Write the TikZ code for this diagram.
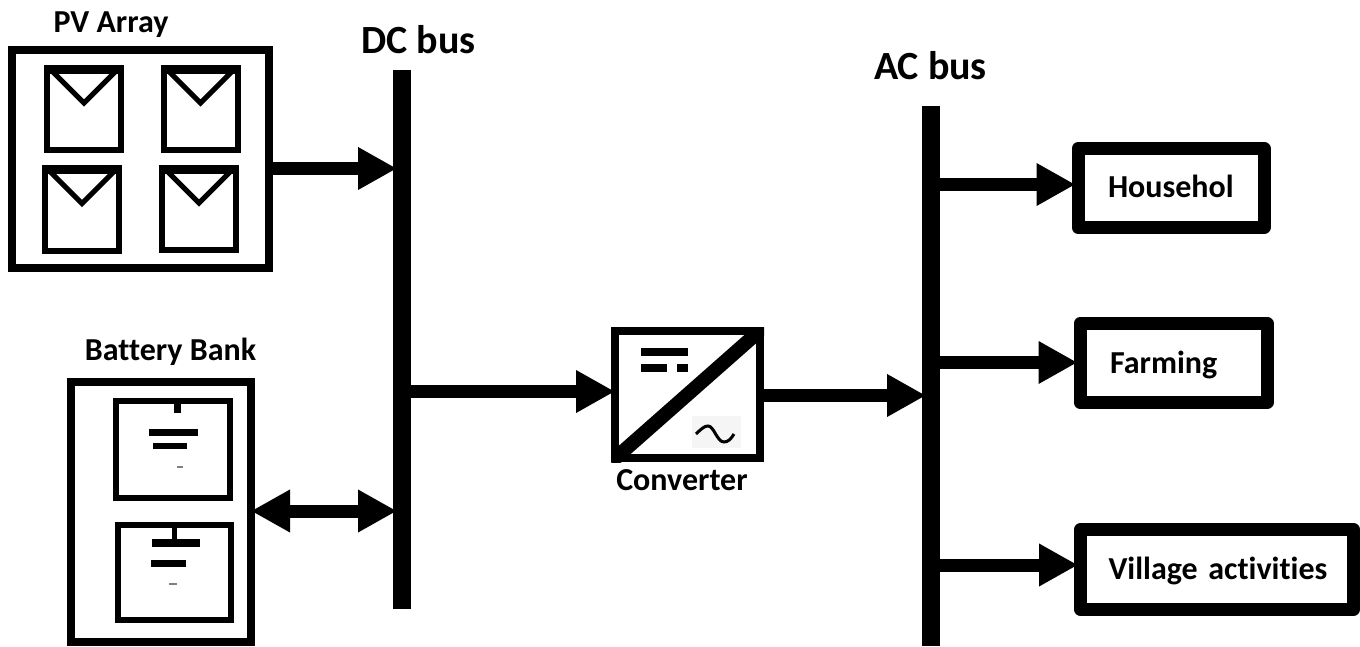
\documentclass[tikz,border=0pt]{standalone}
\usepackage{fontspec}
\setmainfont[Ligatures=NoCommon]{Carlito}
\usepackage{tikz}
\usetikzlibrary{arrows.meta,positioning}
\tikzset{
	titletext/.style={anchor=base,inner sep=0pt,font=\fontsize{32}{36}\selectfont\bfseries},
	bustext/.style={anchor=base,inner sep=0pt,font=\fontsize{40}{44}\selectfont\bfseries},
	busbar/.style={fill=black,minimum width=18pt,inner sep=0pt,outer sep=0pt},
	groupbox/.style={draw,line width=8pt,inner sep=0pt},
	cellbox/.style={draw,line width=6pt,inner sep=0pt},
	loadbox/.style={draw,line width=13pt,line join=round,inner xsep=30pt,inner ysep=0pt,align=left,text height=20pt,text depth=0pt,font=\fontsize{32}{36}\selectfont\bfseries},
	flow/.style={line width=13pt,shorten >=-4pt,-{Triangle[length=39pt,width=40pt]}},
	flowboth/.style={line width=13pt,shorten >=-4pt,shorten <=-4pt,{Triangle[length=39pt,width=40pt]}-{Triangle[length=39pt,width=40pt]}},
}
\begin{document}
\begin{tikzpicture}[x=1pt,y=-1pt]
	\useasboundingbox (0,0) rectangle (1360,647);
	\node[busbar,minimum height=539pt] (dcbus) at (402,339.5) {};
	\node[busbar,minimum height=540pt] (acbus) at (931,376) {};
	\node[bustext] (dclabel) at (418.5,54) {DC bus};
	\node[bustext] (aclabel) at (930.5,80) {AC bus};

	\node[groupbox,minimum width=257pt,minimum height=218pt] (pv) at (140.5,159) {};
	\node[titletext] (pvlabel) at (111,33) {PV Array};
	\foreach \x/\y/\n in {84/109/a,200.5/109/b,82/209.5/c,199/209/d}{
		\node[cellbox,minimum width=74pt,minimum height=82pt] (panel\n) at (\x,\y) {};
		\fill (\x-40,\y-44) rectangle (\x+40,\y-35);
		\draw[line width=5pt] (\x-34,\y-40) -- (\x,\y-6) -- (\x+34,\y-40);
	}

	\node[groupbox,minimum width=180pt,minimum height=260pt] (battery) at (161,512) {};
	\node[titletext] (batterylabel) at (170.5,360.5) {Battery Bank};
	\node[cellbox,minimum width=114pt,minimum height=97pt] (cella) at (173,449.5) {};
	\node[cellbox,minimum width=113pt,minimum height=95pt] (cellb) at (174.5,572.5) {};
	\foreach \xa/\ya/\xb/\yb in {174/398/181/413,149/429/198/436,153/443/187/449,172/522/177/540,152/539/200/547,151/560/186/567}{
		\fill (\xa,\ya) rectangle (\xb,\yb);
	}
	\fill[gray] (177,465.5) rectangle (183,467.5);
	\fill[gray] (169,582.5) rectangle (177,584.5);

	\node[groupbox,minimum width=145pt,minimum height=127pt] (converter) at (687.5,394.5) {};
	\node[titletext] (converterlabel) at (682,490) {Converter};
	\begin{scope}
		\clip (converter.south west) rectangle (converter.north east);
		\draw[line width=14pt] (converter.south west) -- (converter.north east);
	\end{scope}
	\foreach \xa/\ya/\xb/\yb in {641/348/688/356,641/364/667/372,677/364/688/372}{
		\fill (\xa,\ya) rectangle (\xb,\yb);
	}
	\fill[black!4] (692,416) rectangle (741,448);
	\draw[line width=3pt] (696,434) .. controls (702,428) and (705,426) .. (708,426) .. controls (714,426) and (717,442) .. (724,442) .. controls (728,442) and (731,439) .. (734,434);

	\node[loadbox,text width=126pt,minimum height=79pt] (household) at (1171,188) {Househol};
	\node[loadbox,text width=127pt,minimum height=79pt] (farming) at (1173.5,363) {Farming};
	\node[loadbox,inner xsep=28pt,text width=217pt,minimum height=80pt] (village) at (1217,569.5) {\mbox{Village activities}};

	\coordinate (pvport) at (pv.east |- 0,168.5);
	\coordinate (batteryport) at (battery.east |- 0,511);
	\coordinate (converterin) at (converter.west |- 0,391.5);
	\coordinate (converterout) at (converter.east |- 0,395.5);
	\coordinate (householdport) at (household.west |- 0,184.5);
	\coordinate (farmingport) at (farming.west |- 0,362.5);
	\coordinate (villageport) at (village.west |- 0,565);

	\draw[flow] (pvport) -- (dcbus.west |- pvport);
	\draw[flowboth] (batteryport) -- (dcbus.west |- batteryport);
	\draw[flow] (dcbus.east |- converterin) -- (converterin);
	\draw[flow] (converterout) -- (acbus.west |- converterout);
	\foreach \p in {householdport,farmingport,villageport}{
		\draw[flow] (acbus.east |- \p) -- (\p);
	}
\end{tikzpicture}
\end{document}
